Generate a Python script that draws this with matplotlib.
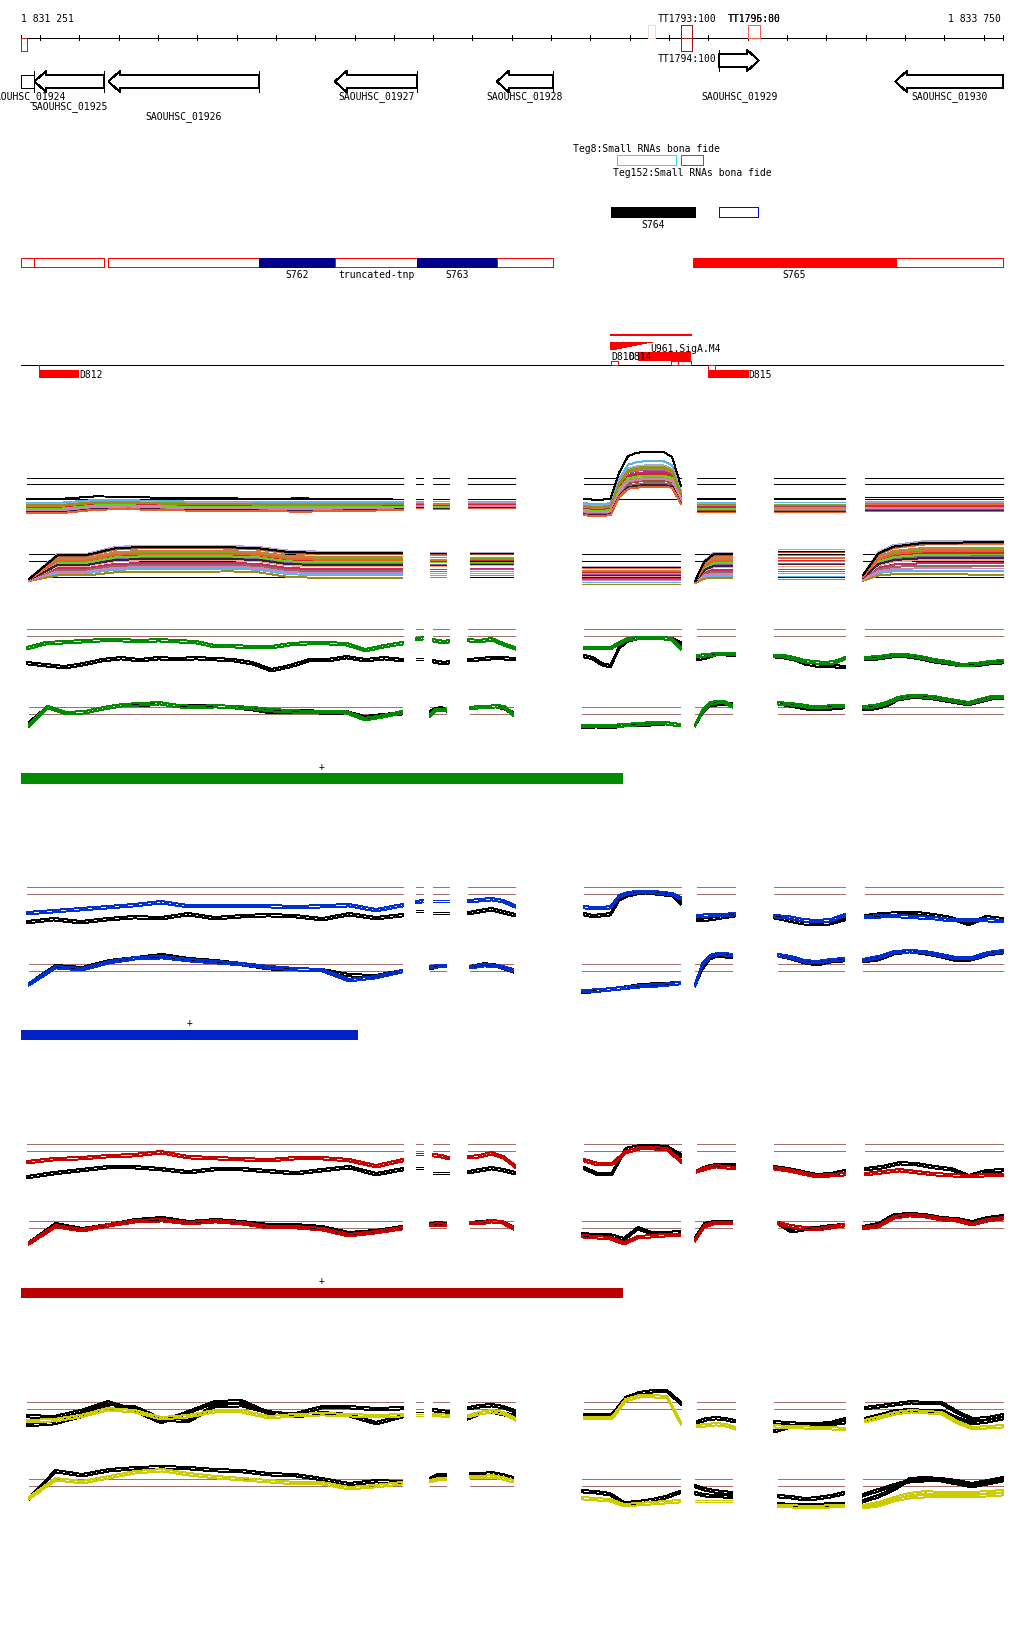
import numpy as np
import matplotlib
matplotlib.use("Agg")
import matplotlib.pyplot as plt
from matplotlib.patches import Rectangle, Polygon
from matplotlib.transforms import offset_copy

plt.rcParams["lines.antialiased"] = False
plt.rcParams["patch.antialiased"] = False

W, H = 1024, 1640
START, END = 1831251, 1833750
PX_PER_BP = 0.3932
XLIM = (START - 20.7 / PX_PER_BP, START + (W - 20.7) / PX_PER_BP)
TICKS = list(range(1831300, 1833750, 100))
LW = 0.7  # about one pixel

# genes: name, start, end, strand, row, label row
GENES = [
    ("SAOUHSC_01924", 1830900, 1831286, "-", 0, 0),
    ("SAOUHSC_01925", 1831286, 1831464, "-", 0, 1),
    ("SAOUHSC_01926", 1831474, 1831858, "-", 0, 2),
    ("SAOUHSC_01927", 1832050, 1832260, "-", 0, 0),
    ("SAOUHSC_01928", 1832462, 1832605, "-", 0, 0),
    ("SAOUHSC_01929", 1833028, 1833128, "+", 1, 0),
    ("SAOUHSC_01930", 1833475, 1834200, "-", 0, 0),
]
# terminators on the ruler: label, start, end, half, colour
TERMS = [
    ("", 1831240, 1831268, "dn", "#b22222"),
    ("", 1832846, 1832863, "up", "#f7d9cf"),
    ("TT1793:100", 1832931, 1832959, "up", "#a31515"),
    ("TT1794:100", 1832931, 1832959, "dn", "#a31515"),
    ("TT1795:80", 1833101, 1833132, "up", "#ff6347"),
    ("TT1796:00", 1833101, 1833132, "up", None),
]
SRNA = [("Teg8:Small RNAs bona fide", 1832768, 1832918, "#22e0ee", "up"),
        ("Teg152:Small RNAs bona fide", 1832931, 1832985, "#ee00ee", "dn")]
ROW3 = [("S764", 1832752, 1832965, "black", True),
        ("", 1833028, 1833127, "#0000ff", False)]
ROW4 = [("", 1831251, 1831286, None), ("", 1831286, 1831464, None),
        ("", 1831472, 1831858, None), ("S762", 1831858, 1832050, "#000088"),
        ("truncated-tnp", 1832050, 1832260, None), ("S763", 1832260, 1832462, "#000088"),
        ("", 1832462, 1832605, None), ("S765", 1832960, 1833478, "#ff0000"),
        ("", 1833478, 1833750, None)]
BARS = [("#008b00", 1832783), ("#0022c8", 1832108), ("#bb0000", 1832782)]

SEG_UP = [(1831267, 1832223), (1832256, 1832273), (1832300, 1832340), (1832389, 1832508),
          (1832684, 1832930), (1832971, 1833068), (1833167, 1833347), (1833398, 1833750)]
SEG_DN = [(1831272, 1832221), (1832292, 1832333), (1832394, 1832503), (1832679, 1832927),
          (1832966, 1833060), (1833177, 1833345), (1833393, 1833750)]

RB_COLORS = ['#5ab4ee', '#b3a3d3', '#7ea81e', '#9457aa', '#c8286e', '#e8742c', '#d62728',
             '#f4a582', '#c47e4a', '#5fd41c', '#a0522d', '#a08a18', '#8c6d5c', '#d47fc4',
             '#3b2045', '#e8602a', '#000000']
Z_UP = [0.55, 0.3, 0.22, 0.05, -0.1, 0.1, -0.2, -0.35, -0.45, -0.3, -0.6, 0.15, -0.75,
        -0.5, -0.85, -0.95, 1.1]
Z_DN = [-0.75, 1.0, 0.5, 0.1, -0.3, 0.8, 0.3, -0.1, 0.6, 0.2, 0.85, -0.95, -0.45, -0.6,
        0.0, 0.4, 0.9]
# rainbow profiles per segment: (centre, spread)
RAINBOW_UP = [
    ([-23, -23, -20, -20, -21, -21.5, -21.5, -22, -22, -22, -22, -21.5],
     [7, 7, 6.5, 6, 6, 6, 6, 6, 6.5, 6, 5.5, 5]),
    ([-20, -20], [4.5, 4.5]),
    ([-20.5, -20.5, -20.5], [5, 5, 5]),
    ([-20, -20, -20, -20], [4.5, 4.5, 4.5, 4.5]),
    ([-24, -25, -25, -24, -2, 10, 12, 13, 13, 13, 10, -12],
     [8, 8, 8, 8, 12, 16, 17, 17, 17, 17, 15, 9]),
    ([-22, -22, -22, -22, -22], [7, 7, 7, 7, 7]),
    ([-22, -22, -22, -22], [6.5, 6.5, 6.5, 6.5]),
    ([-21, -21, -21, -21, -21, -21], [6.8, 6.8, 6.8, 6.8, 6.8, 6.8]),
]
RAINBOW_DN = [
    ([-20, -5, -5, 0, 1, 1, 1, 1, 0, -4, -5, -5, -5, -5],
     [1, 11, 11, 13, 13.5, 13.5, 13.5, 13, 13, 13.5, 13.5, 13.5, 13.5, 13.5]),
    ([-5, -5, -5], [13, 13, 13]),
    ([-4, -4, -4, -4], [12, 12, 12, 12]),
    ([-15, -15, -15, -15, -15, -15], [9, 9, 9, 9, 9, 9]),
    ([-22, -10, -6, -6, -6], [1, 9, 13, 13, 13]),
    ([-4.3, -4.3, -4.3, -4.3, -4.3], [15, 15, 15, 15, 15]),
    ([-18, -4, 0, 1, 2, 2, 2, 2, 2, 2], [3, 12, 15, 16, 17, 17, 17, 17.5, 17.5, 17.5]),
]

GREEN_UP = [
    dict(c=[-11, -6, -5, -4, -3, -3, -4, -3, -4, -5, -9, -9, -10, -10, -7, -6, -6, -7, -13, -9, -6],
         k=[-26, -28, -30, -27, -23, -21, -23, -21, -22, -21, -22, -23, -26, -33, -29, -23, -23, -20, -23, -21, -23]),
    dict(c=[-2, -2, -1], k=[-22, -22, -22]),
    dict(c=[-3, -4, -5, -4], k=[-24, -25, -26, -25]),
    dict(c=[-3, -4, -2, -7, -11], k=[-23, -22, -21, -21, -22]),
    dict(c=[-11, -11, -11, -11, -6, -2, -1, -1, -1, -1, -2, -11],
         k=[-19, -21, -27, -29, -10, -3, -1, -1, -1, -1, -2, -6]),
    dict(c=[-19, -18, -17, -17, -17], k=[-22, -20, -17, -17, -18]),
    dict(c=[-19, -19, -21, -24, -25, -26, -25, -21], k=[-19, -20, -22, -26, -28, -29, -29, -30]),
    dict(c=[-21, -20, -18, -18, -20, -23, -25, -28, -27, -25, -24],
         k=[-22, -21, -19, -19, -21, -24, -26, -28, -28, -26, -25]),
]
GREEN_DN = [
    dict(c=[-10, 8, 2, 3, 7, 10, 11, 12, 9, 8, 9, 8, 7, 5, 4, 3, 3, 3, -4, -1, 3],
         k=[-8, 8, 2, 3, 7, 10, 10, 12, 9, 9, 9, 8, 6, 3, 3, 4, 2, 3, -2, 0, 2]),
    dict(c=[0, 5, 5, 5], k=[3, 6, 7, 5]),
    dict(c=[7, 8, 8, 9, 8, 1], k=[7, 8, 8, 9, 7, 2]),
    dict(c=[-11, -11, -11, -10, -9, -8, -8, -10], k=[-12, -11, -12, -10, -10, -9, -8, -10]),
    dict(c=[-10, 4, 12, 13, 13, 9], k=[-10, 3, 10, 11, 11, 11]),
    dict(c=[12, 11, 10, 8, 8, 9, 9], k=[12, 10, 8, 6, 6, 7, 8]),
    dict(c=[8, 9, 12, 17, 19, 19, 18, 16, 14, 12, 15, 18, 18],
         k=[6, 7, 10, 16, 18, 18, 17, 15, 13, 11, 14, 17, 17]),
]
BLUE_UP = [
    dict(c=[-18, -16, -14, -12, -10, -7, -11, -11, -11, -11, -12, -11, -10, -15, -10],
         k=[-27, -24, -27, -24, -22, -23, -19, -23, -21, -20, -21, -24, -19, -23, -20]),
    dict(c=[-7, -6], k=[-16, -16]),
    dict(c=[-6, -6, -6], k=[-18, -18, -18]),
    dict(c=[-6, -5, -4, -6, -11], k=[-18, -16, -14, -17, -20]),
    dict(c=[-12, -13, -13, -12, -1, 2, 3, 3, 3, 2, 1, -3],
         k=[-19, -21, -20, -19, -4, 0, 2, 3, 2, 1, 0, -8]),
    dict(c=[-21, -20, -20, -19], k=[-25, -24, -22, -20]),
    dict(c=[-21, -22, -25, -26, -25, -20], k=[-22, -25, -28, -29, -28, -24]),
    dict(c=[-22, -21, -21, -22, -23, -25, -25, -25, -26], k=[-21, -19, -18, -18, -20, -23, -29, -22, -24]),
]
BLUE_DN = [
    dict(c=[-12, 5, 3, 10, 14, 15, 12, 10, 8, 5, 3, 2, -8, -5, 1],
         k=[-12, 6, 4, 11, 14, 17, 13, 11, 8, 4, 3, 2, -3, -4, 1]),
    dict(c=[5, 6, 6], k=[4, 6, 6]),
    dict(c=[5, 7, 6, 2], k=[5, 8, 6, 1]),
    dict(c=[-19, -18, -16, -14, -13, -11], k=[-20, -18, -16, -13, -12, -11]),
    dict(c=[-13, 8, 16, 18, 18, 17], k=[-13, 4, 14, 17, 16, 15]),
    dict(c=[17, 15, 11, 10, 12, 13], k=[17, 14, 10, 8, 11, 12]),
    dict(c=[12, 15, 20, 21, 20, 17, 14, 14, 19, 21], k=[11, 13, 19, 21, 19, 16, 12, 13, 18, 20]),
]
RED_UP = [
    dict(c=[-10, -7, -6, -4, -3, 0, -5, -6, -7, -8, -6, -6, -8, -14, -8],
         k=[-25, -21, -18, -15, -15, -17, -20, -17, -17, -19, -21, -18, -15, -22, -17]),
    dict(c=[-2, -2], k=[-16, -16]),
    dict(c=[-3, -4, -6], k=[-21, -21, -21]),
    dict(c=[-5, -4, -1, -5, -14], k=[-20, -18, -16, -18, -21]),
    dict(c=[-8, -12, -12, 0, 4, 4, 3, -9], k=[-16, -22, -22, 3, 6, 6, 5, -3]),
    dict(c=[-19, -16, -14, -15, -16], k=[-19, -15, -13, -13, -13]),
    dict(c=[-16, -18, -21, -24, -23, -22], k=[-15, -17, -20, -23, -22, -19]),
    dict(c=[-22, -20, -18, -20, -22, -23, -24, -23, -23], k=[-17, -15, -11, -12, -15, -17, -24, -19, -18]),
]
RED_DN = [
    dict(c=[-14, 3, -1, 4, 8, 9, 6, 8, 6, 2, 2, 0, -6, -3, 1],
         k=[-14, 5, 0, 4, 9, 11, 7, 9, 7, 4, 4, 2, -4, -2, 2]),
    dict(c=[4, 5, 4], k=[5, 6, 5]),
    dict(c=[6, 6, 8, 7, 1], k=[6, 7, 8, 7, 2]),
    dict(c=[-7, -8, -9, -14, -8, -7, -6, -6], k=[-5, -6, -6, -10, 1, -4, -4, -3]),
    dict(c=[-11, 3, 6, 6, 6], k=[-9, 5, 7, 7, 7]),
    dict(c=[6, 3, 1, 0, 2, 4], k=[6, -2, 0, 1, 3, 4]),
    dict(c=[1, 3, 12, 14, 13, 10, 9, 5, 9, 11], k=[2, 5, 14, 15, 14, 11, 10, 7, 11, 13]),
]
YELLOW_UP = [
    dict(c=[-11, -10, -6, 1, -1, -8, -6, -1, -1, -7, -5, -4, -5, -6, -5],
         k=[-6, -7, -1, 8, 0, -12, -2, 8, 9, -3, -4, 3, 3, 1, 2],
         k2=[-15, -13, -6, 4, 3, -9, -11, 4, 5, -2, -6, -3, -5, -13, -6]),
    dict(c=[-5, -5], k=[-3, -3]),
    dict(c=[-5, -5, -6], k=[0, -1, -2]),
    dict(c=[-6, -3, -1, -3, -9], k=[2, 4, 5, 3, -1], k2=[-8, -3, -1, -4, -5]),
    dict(c=[-8, -8, -8, 10, 14, 14, 13, -13], k=[-5, -5, -5, 12, 17, 19, 19, 7]),
    dict(c=[-16, -15, -14, -15, -18], k=[-12, -9, -8, -9, -11]),
    dict(c=[-16, -17, -17, -18, -18, -19], k=[-12, -13, -14, -14, -13, -9],
         k2=[-21, -17, -15, -15, -14, -12]),
    dict(c=[-11, -7, -3, -1, -2, -3, -12, -18, -17, -16], k=[2, 4, 6, 8, 7, 7, -2, -9, -8, -5],
         k2=[-9, -5, -1, 0, -1, -1, -8, -13, -11, -8]),
]
YELLOW_DN = [
    dict(c=[-11, 8, 5, 10, 15, 17, 13, 10, 8, 6, 4, 4, -1, 1, 4],
         k=[-11, 16, 12, 17, 19, 20, 19, 17, 16, 13, 12, 8, 3, 6, 5]),
    dict(c=[6, 8, 8], k=[8, 12, 12]),
    dict(c=[10, 10, 11, 9, 6], k=[13, 13, 14, 12, 9]),
    dict(c=[-11, -12, -13, -18, -17, -16, -15, -14], k=[-4, -5, -7, -16, -15, -13, -10, -5]),
    dict(c=[-14, -14, -14, -14, -14], k=[1, -2, -4, -5, -6], k2=[-6, -8, -9, -9, -10]),
    dict(c=[-19, -19, -20, -20, -19, -19], k=[-9, -10, -12, -11, -9, -6],
         k2=[-17, -18, -18, -18, -17, -17]),
    dict(c=[-19, -16, -11, -7, -5, -6, -6, -6, -5, -4], c2=[-20, -18, -13, -10, -9, -9, -9, -9, -8, -7],
         k=[-14, -9, -2, 8, 9, 8, 6, 3, 6, 9], k2=[-8, -3, 2, 6, 7, 7, 4, 1, 4, 7]),
]

MONO = dict(family="DejaVu Sans Mono", fontsize=7, color="black")
BROWN = "#a0706c"

fig = plt.figure(figsize=(W / 100, H / 100), dpi=100)
ax = fig.add_axes([0, 0, 1, 1])
ax.set_xlim(XLIM)
ax.set_ylim(H, 0)
ax.axis("off")
bp = 1 / PX_PER_BP  # one pixel in bp


def box(x0, x1, y0, y1, face="white", edge="black", lw=LW, z=2):
    ax.add_patch(Rectangle((x0, y0), x1 - x0, y1 - y0, facecolor=face, edgecolor=edge,
                           lw=lw, zorder=z))


# ruler
ax.plot([START, END], [38.5, 38.5], color="black", lw=LW)
for t in [START] + TICKS + [END]:
    ax.plot([t, t], [36, 41], color="black", lw=LW)
ax.text(START, 19, f"{START:,}".replace(",", " "), ha="left", va="center", **MONO)
ax.text(END - 2 * bp, 19, f"{END:,}".replace(",", " "), ha="right", va="center", **MONO)
for name, s, e, half, col in TERMS:
    y0, y1 = (26, 38.5) if half == "up" else (38.5, 52)
    if col:
        box(max(s, START), e, y0, y1, face="none", edge=col, z=3)
    if name:
        ax.text((s + e) / 2, 19 if half == "up" else 59, name, ha="center", va="center", **MONO)

# genes
HEAD, HH, SH = 12 * bp, 10.8, 6.5
for name, s, e, strand, row, lrow in GENES:
    yc = 82.5 if row == 0 else 61.5
    a, b = max(s, START), min(e, END)
    if strand == "-":
        if s >= START:
            pts = [(a, yc), (a + HEAD, yc - HH), (a + HEAD, yc - SH), (b, yc - SH),
                   (b, yc + SH), (a + HEAD, yc + SH), (a + HEAD, yc + HH)]
        else:
            pts = [(a, yc - SH), (b, yc - SH), (b, yc + SH), (a, yc + SH)]
        bar = b if e <= END else None
    else:
        if e <= END:
            pts = [(b, yc), (b - HEAD, yc - HH), (b - HEAD, yc - SH), (a, yc - SH),
                   (a, yc + SH), (b - HEAD, yc + SH), (b - HEAD, yc + HH)]
        else:
            pts = [(a, yc - SH), (b, yc - SH), (b, yc + SH), (a, yc + SH)]
        bar = a if s >= START else None
    ax.add_patch(Polygon(pts, closed=True, facecolor="white", edgecolor="black", lw=LW))
    if bar is not None:
        ax.plot([bar, bar], [yc - HH, yc + HH], color="black", lw=LW)
    ax.text((a + b) / 2, 97 + 10 * lrow, name, ha="center", va="center", **MONO)

# small RNAs
for name, s, e, col, side in SRNA:
    box(s, e, 155.5, 166, face="none", edge=col)
    ax.text((s + e) / 2, 149 if side == "up" else 172.5, name, ha="center", va="center", **MONO)
for name, s, e, col, filled in ROW3:
    box(s, e, 207.5, 217.5, face=col if filled else "none", edge=col)
    if name:
        ax.text((s + e) / 2, 224.5, name, ha="center", va="center", **MONO)
for name, s, e, col in ROW4:
    box(s, e, 258.5, 268, face=col if col else "white", edge=col if col else "#ff0000")
    if name:
        ax.text((s + e) / 2, 275.5, name, ha="center", va="center", **MONO)

# promoters / transcript ends
ax.plot([1832752, 1832957], [336, 336], color="#ff0000", lw=1.2)
ax.add_patch(Polygon([(1832752, 343), (1832857, 343), (1832752, 351)], closed=True,
                     facecolor="#ff0000", edgecolor="none"))
ax.text(1832851, 349, "U961.SigA.M4", ha="left", va="center", **MONO)
box(1832820, 1832957, 352.7, 361.7, face="#ff0000", edge="none")
ax.text(1832753, 357.5, "D810", ha="left", va="center", **MONO)
ax.text(1832753 + 3 * 5.85 * bp, 357.5, "D814", ha="left", va="center", **MONO)
ax.plot([START, END], [366, 366], color="black", lw=LW)
for s, e, y0, y1 in [(1832752, 1832771, 362, 366), (1832905, 1832922, 362, 366),
                     (1832922, 1832957, 362, 366), (1833000, 1833017, 366, 370.5)]:
    box(s, e, y0, y1, face="none", edge="#ff0000")
for name, s, e in [("D812", 1831297, 1831400), ("D815", 1833000, 1833102)]:
    ax.plot([s, s], [366, 371], color="#ff0000", lw=0.5)
    box(s, e, 370.5, 378.5, face="#ff0000", edge="none")
    ax.text(e, 375, name, ha="left", va="center", **MONO)

# condition bars
for (col, e), y in zip(BARS, [774, 1030.5, 1288.5]):
    box(START, e, y, y + 10.5, face=col, edge="none")
    ax.text((START + e) / 2, y - 7, "+", ha="center", va="center", **MONO)


def track_ax(ref_px):
    top, bot = ref_px - 60, ref_px + 45
    a = fig.add_axes([0, 1 - bot / H, 1, (bot - top) / H])
    a.set_xlim(XLIM)
    a.set_ylim(-45, 60)
    a.axis("off")
    a.patch.set_visible(False)
    return a


def pair_track(ref_px, segs, data, colour):
    a = track_ax(ref_px)
    off = offset_copy(a.transData, fig=fig, y=-2.4, units="dots")
    for (s0, s1), d in zip(segs, data):
        for lv in (7, 0):
            a.plot([s0, s1], [lv, lv], color=BROWN, lw=LW)
        for key in ("k", "k2", "c", "c2"):
            if key in d:
                vals = d[key]
                xs = np.linspace(s0, s1, len(vals))
                col = "black" if key.startswith("k") else colour
                a.plot(xs, vals, color=col, lw=LW)
                a.plot(xs, vals, color=col, lw=LW, transform=off)


def rainbow_track(ref_px, segs, prof, z, refs):
    a = track_ax(ref_px)
    for (s0, s1), (cen, spr) in zip(segs, prof):
        for lv in refs:
            a.plot([s0, s1], [lv, lv], color="black", lw=LW)
        xs = np.linspace(s0, s1, len(cen))
        cen, spr = np.array(cen), np.array(spr)
        for zi, col in zip(z, RB_COLORS):
            a.plot(xs, cen + spr * zi, color=col, lw=LW)


rainbow_track(484.5, SEG_UP, RAINBOW_UP, Z_UP, (6, 0, -15))
rainbow_track(561, SEG_DN, RAINBOW_DN, Z_DN, (6, -1, -16.5))
pair_track(637, SEG_UP, GREEN_UP, "#008c00")
pair_track(715, SEG_DN, GREEN_DN, "#008c00")
pair_track(895, SEG_UP, BLUE_UP, "#0030d0")
pair_track(972, SEG_DN, BLUE_DN, "#0030d0")
pair_track(1152, SEG_UP, RED_UP, "#c80000")
pair_track(1229, SEG_DN, RED_DN, "#c80000")
pair_track(1410, SEG_UP, YELLOW_UP, "#cccc00")
pair_track(1487, SEG_DN, YELLOW_DN, "#cccc00")

fig.savefig("out.png", dpi=100, facecolor="white")
